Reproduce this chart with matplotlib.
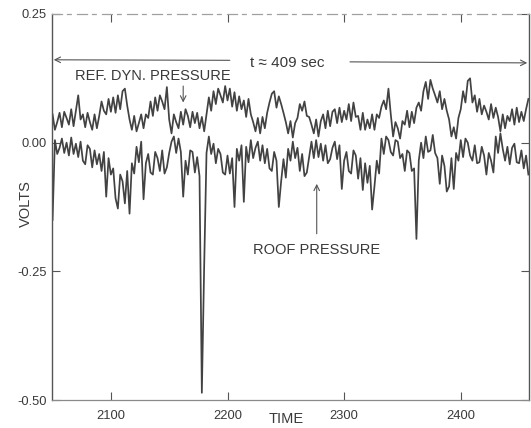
import matplotlib
matplotlib.use("Agg")
import matplotlib.pyplot as plt
import numpy as np

plt.rcParams['font.family'] = ['Liberation Sans', 'DejaVu Sans']

# sampling: one reading every 2 s, starting at t = 2050 s
T_START = 2050
T_STEP = 2

# reference dynamic pressure trace (mV)
ref_dyn_mv = [
    55, 25, 40, 58, 30,   60, 48, 35, 65, 32,   62, 92, 45, 55, 30,
    58, 40, 25, 55, 28,   52, 80, 62, 55, 85,   60, 88, 58, 92, 65,
    100, 105, 72, 45, 25, 52, 22, 38, 55, 28,   55, 48, 80, 52, 88,
    62, 92, 80, 65, 108,  45, 18, 55, 40, 28,   60, 35, 65, 52, 30,
    60, 38, 58, 28, 50,   22, 55, 88, 62, 100,  75, 105, 92, 78, 110,
    82, 105, 70, 98, 62,  90, 65, 82, 50, 85,   55, 40, 22, 48, 18,
    50, 28, 58, 78, 95,   100, 68, 90, 75, 58,  40, 18, 42, 10, 38,
    48, 75, 62, 80, 52,   50, 35, 18, 45, 12,   42, 55, 28, 62, 32,
    60, 65, 38, 68, 40,   62, 45, 75, 42, 78,   50, 52, 25, 58, 25,
    45, 28, 55, 25, 55,   48, 70, 82, 65, 105,  55, 12, 40, 28, 8,
    42, 35, 62, 30, 60,   38, 68, 78, 62, 100,  118, 85, 122, 105, 92,
    78, 100, 65, 85, 62,  45, 12, 30, 8, 48,    65, 100, 78, 120, 125,
    78, 92, 60, 85, 55,   72, 60, 45, 75, 48,   68, 50, 22, 55, 28,
    52, 42, 65, 35, 68,   40, 60, 42, 65, 85,
]

# roof pressure trace (mV)
roof_mv = [
    -150, 5, -22, -10, 8,   -20, 0, -25, 10, -22,   -2, -28, 2, -35, -42,
    -5, -12, -48, -15, -42, -22, -55, -18, -105, -30, -62, -50, -108, -128, -62,
    -75, -118, -55, -138, -40, -60, -8, -38, 2, -110, -40, -22, -58, -62, -18,
    -30, -55, -15, -60, -48, -20, 2, 12, -20, 8,    -18, -105, -35, -62, -15,
    -18, -58, -28, -65, -486, -239, -20, 12, -22, -2, -40, -12, -22, -58, -62,
    -25, -60, -30, -125, -12, -35, -5, -115, -8, -38, 5, -30, -10, 2, -35,
    -5, -40, -12, -50, -55, -18, -35, -125, -75, -32, -68, -12, -35, 2, -30,
    -10, -55, -22, -65, -58, -28, 2, -30, 5, -28,   -2, -35, -5, -40, -32,
    -10, 2, -32, -5, -90,   -35, -18, -55, -60, -15, -25, -70, -30, -92, -40,
    -78, -45, -130, -85, -35, -60, 8, -22, 12, 5,   -18, -25, 5, 2, -30,
    -22, -55, -15, -20, -55, -50, -187, -35, 0, -30, 12, -18, -15, 15, -20,
    -30, -80, -25, -45, -95, -85, -30, -90, -20, -35, 5, -28, 8, 0, -25,
    -35, -5, -40, -38, -8,  -25, -62, -20, -35, -58, 12, -20, 18, -12, -35,
    -8, -42, -10, -2, -38,  -40, -15, -50, -25, -62,
]

x_ticks = [2100, 2200, 2300, 2400]
y_ticks = [-0.50, -0.25, 0.00, 0.25]

TRACE = '#424242'
INK = '#3a3a3a'

t_ref = T_START + T_STEP * np.arange(len(ref_dyn_mv))
t_roof = T_START + T_STEP * np.arange(len(roof_mv))
ref_v = np.array(ref_dyn_mv) / 1000.0
roof_v = np.array(roof_mv) / 1000.0

fig = plt.figure(figsize=(5.31, 4.28), dpi=100, facecolor='white')
ax = fig.add_axes([0.0979, 0.0654, 0.8983, 0.9019])

ax.plot(t_ref, ref_v, color=TRACE, lw=1.25)
ax.plot(t_roof, roof_v, color=TRACE, lw=1.25)

ax.set_xlim(2049.5, 2458.5)
ax.set_ylim(-0.5, 0.25)
ax.set_xticks(x_ticks)
ax.set_xticklabels([str(v) for v in x_ticks])
ax.set_yticks(y_ticks)
ax.set_yticklabels([f"{v:.2f}" for v in y_ticks])

ax.tick_params(direction='in', length=6, width=0.8, colors='#555555',
               labelcolor=INK, labelsize=9.3, top=True, right=True)
ax.tick_params(axis='x', pad=7)
ax.tick_params(axis='y', pad=4)

for side in ['left', 'right']:
    ax.spines[side].set_color('#555555')
    ax.spines[side].set_linewidth(1.0)
ax.spines['bottom'].set_color('#8a8a8a')
ax.spines['bottom'].set_linewidth(0.9)
ax.spines['top'].set_color('#a0a0a0')
ax.spines['top'].set_linewidth(0.9)
ax.spines['top'].set_linestyle((0, (8, 4, 3, 5)))

ax.set_ylabel('VOLTS', fontsize=10.5, color=INK)
ax.yaxis.set_label_coords(-0.040, 0.51)
ax.set_xlabel('TIME', fontsize=10.5, color=INK)
ax.xaxis.set_label_coords(0.49, -0.032)

arrow = dict(arrowstyle='->', color='#555555', lw=0.8, shrinkA=0, shrinkB=0)

# record length
ax.text(2251, 0.155, 't \u2248 409 sec', fontsize=11, color=INK,
        ha='center', va='center')
ax.annotate('', xy=(2051, 0.161), xytext=(2202, 0.160), arrowprops=arrow)
ax.annotate('', xy=(2457, 0.155), xytext=(2305, 0.157), arrowprops=arrow)

ax.text(2136, 0.130, 'REF. DYN. PRESSURE', fontsize=10.5, color=INK,
        ha='center', va='center')
ax.annotate('', xy=(2162, 0.078), xytext=(2162, 0.110), arrowprops=arrow)

ax.text(2276, -0.208, 'ROOF PRESSURE', fontsize=10.5, color=INK,
        ha='center', va='center')
ax.annotate('', xy=(2276.5, -0.080), xytext=(2276.5, -0.177), arrowprops=arrow)

fig.savefig('out.png', dpi=100, facecolor='white')
